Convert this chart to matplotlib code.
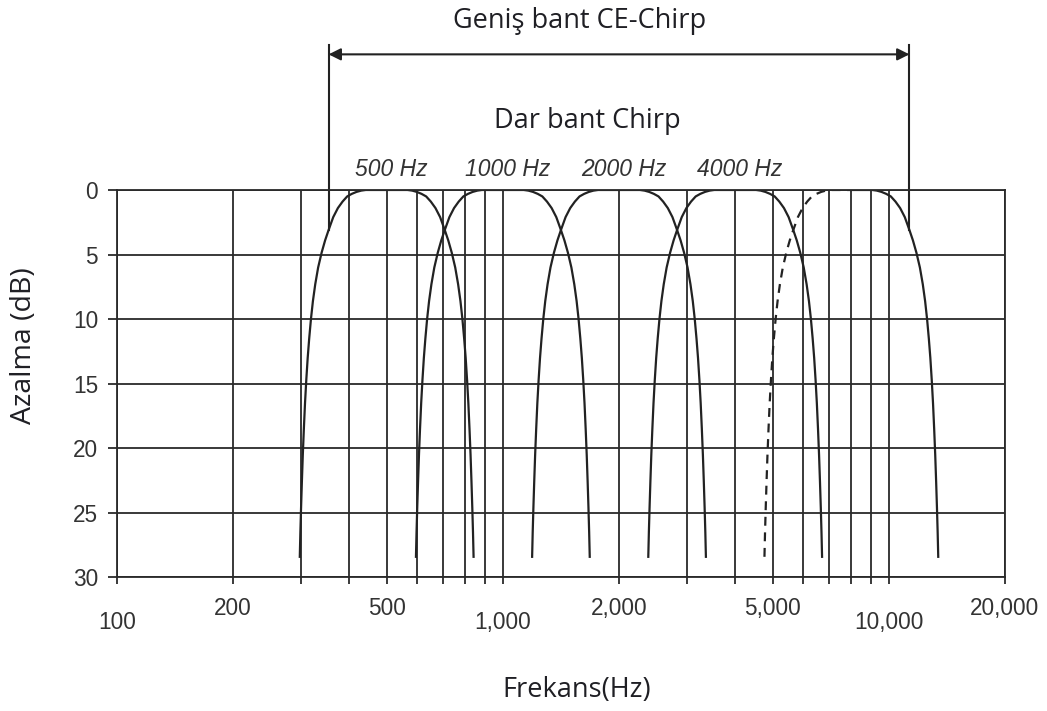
import matplotlib
matplotlib.use("Agg")
import matplotlib.pyplot as plt
from matplotlib.ticker import NullLocator

# octave-band chirp responses, attenuation vs frequency
band_centers = [500, 1000, 2000, 4000, 8000]
band_names = ["500 Hz", "1000 Hz", "2000 Hz", "4000 Hz"]

# one half of a band response: distance from centre (octaves) -> attenuation (dB)
profile_oct = [0.0, 0.18, 0.22, 0.26, 0.30, 0.34, 0.38, 0.42, 0.46, 0.50,
               0.53, 0.56, 0.59, 0.615, 0.635, 0.652, 0.667, 0.68, 0.692, 0.703,
               0.713, 0.722, 0.73, 0.737, 0.743, 0.748]
profile_db = [0.0, 0.0, 0.05, 0.15, 0.3, 0.5, 0.9, 1.4, 2.1, 3.1,
              3.9, 4.85, 6.0, 7.3, 8.6, 10.0, 11.5, 13.0, 14.7, 16.5,
              18.5, 20.5, 22.6, 24.6, 26.5, 28.4]

grid_freqs = [100, 200, 300, 400, 500, 600, 700, 800, 900, 1000,
              2000, 3000, 4000, 5000, 6000, 7000, 8000, 9000, 10000, 20000]
label_freqs = [100, 200, 500, 1000, 2000, 5000, 10000, 20000]
label_texts = ["100", "200", "500", "1,000", "2,000", "5,000", "10,000", "20,000"]
low_labels = [100, 1000, 10000]
db_ticks = [0, 5, 10, 15, 20, 25, 30]

# broadband span between the -3 dB points of the outer bands
wide_lo = 353.6
wide_hi = 11314

line_col = "#222222"
grid_col = "#2a2a2a"
txt_col = "#1f1f24"
tick_font = "Liberation Sans"
head_font = "Open Sans"

fig = plt.figure(figsize=(10.47, 7.11), dpi=100)
ax = fig.add_axes([0.1117, 0.1878, 0.8481, 0.545])

ax.set_xscale("log")
ax.set_xlim(100, 20000)
ax.set_ylim(30, 0)

ax.set_xticks(grid_freqs)
ax.set_xticklabels([])
ax.xaxis.set_minor_locator(NullLocator())
ax.set_yticks(db_ticks)
ax.set_yticklabels([str(v) for v in db_ticks], fontfamily=tick_font,
                   fontsize=16.3, color="#333333")
ax.grid(True, color=grid_col, lw=1.3)
ax.set_axisbelow(True)
ax.tick_params(axis="x", direction="out", length=5, width=1.3, color=grid_col)
ax.tick_params(axis="y", direction="out", length=6.5, width=1.3, color=grid_col, pad=7)
for s in ax.spines.values():
    s.set_color(grid_col)
    s.set_linewidth(1.3)

# x labels sit on two staggered rows
for f, t in zip(label_freqs, label_texts):
    y = -0.117 if f in low_labels else -0.081
    ax.text(f, y, t, transform=ax.get_xaxis_transform(), ha="center", va="center",
            fontfamily=tick_font, fontsize=16.3, color="#333333")

for i, fc in enumerate(band_centers):
    left_f = [fc * 2 ** (-o) for o in profile_oct][::-1]
    left_a = profile_db[::-1]
    right_f = [fc * 2 ** o for o in profile_oct]
    right_a = profile_db
    if i == len(band_centers) - 1:
        ax.plot(left_f, left_a, color=line_col, lw=1.6, ls=(0, (4, 3)))
        ax.plot(right_f, right_a, color=line_col, lw=1.6)
    else:
        ax.plot(left_f + right_f, left_a + right_a, color=line_col, lw=1.6)

for fc, name in zip(band_centers, band_names):
    ax.text(fc * 1.03, -1.6, name, ha="center", va="center", fontfamily=tick_font,
            fontstyle="italic", fontsize=16.5, color="#333333")

# broadband bracket
ax.plot([wide_lo, wide_lo], [3.1, -11.2], color=line_col, lw=1.5, clip_on=False)
ax.plot([wide_hi, wide_hi], [3.1, -11.2], color=line_col, lw=1.5, clip_on=False)
ax.annotate("", xy=(wide_hi, -10.5), xytext=(wide_lo, -10.5), annotation_clip=False,
            arrowprops=dict(arrowstyle="<|-|>", color=line_col, lw=1.5,
                            mutation_scale=18, shrinkA=0, shrinkB=0))

fig.text(580 / 1047, 1 - 21 / 711, "Geniş bant CE-Chirp", ha="center", va="center",
         fontfamily=head_font, fontsize=19.5, color=txt_col)
fig.text(587 / 1047, 1 - 121 / 711, "Dar bant Chirp", ha="center", va="center",
         fontfamily=head_font, fontsize=19.5, color=txt_col)
fig.text(577 / 1047, 1 - 690 / 711, "Frekans(Hz)", ha="center", va="center",
         fontfamily=head_font, fontsize=19.5, color=txt_col)
fig.text(24 / 1047, 1 - 346 / 711, "Azalma (dB)", ha="center", va="center",
         rotation=90, fontfamily=head_font, fontsize=20.5, color=txt_col)

fig.savefig("out.png", dpi=100)
